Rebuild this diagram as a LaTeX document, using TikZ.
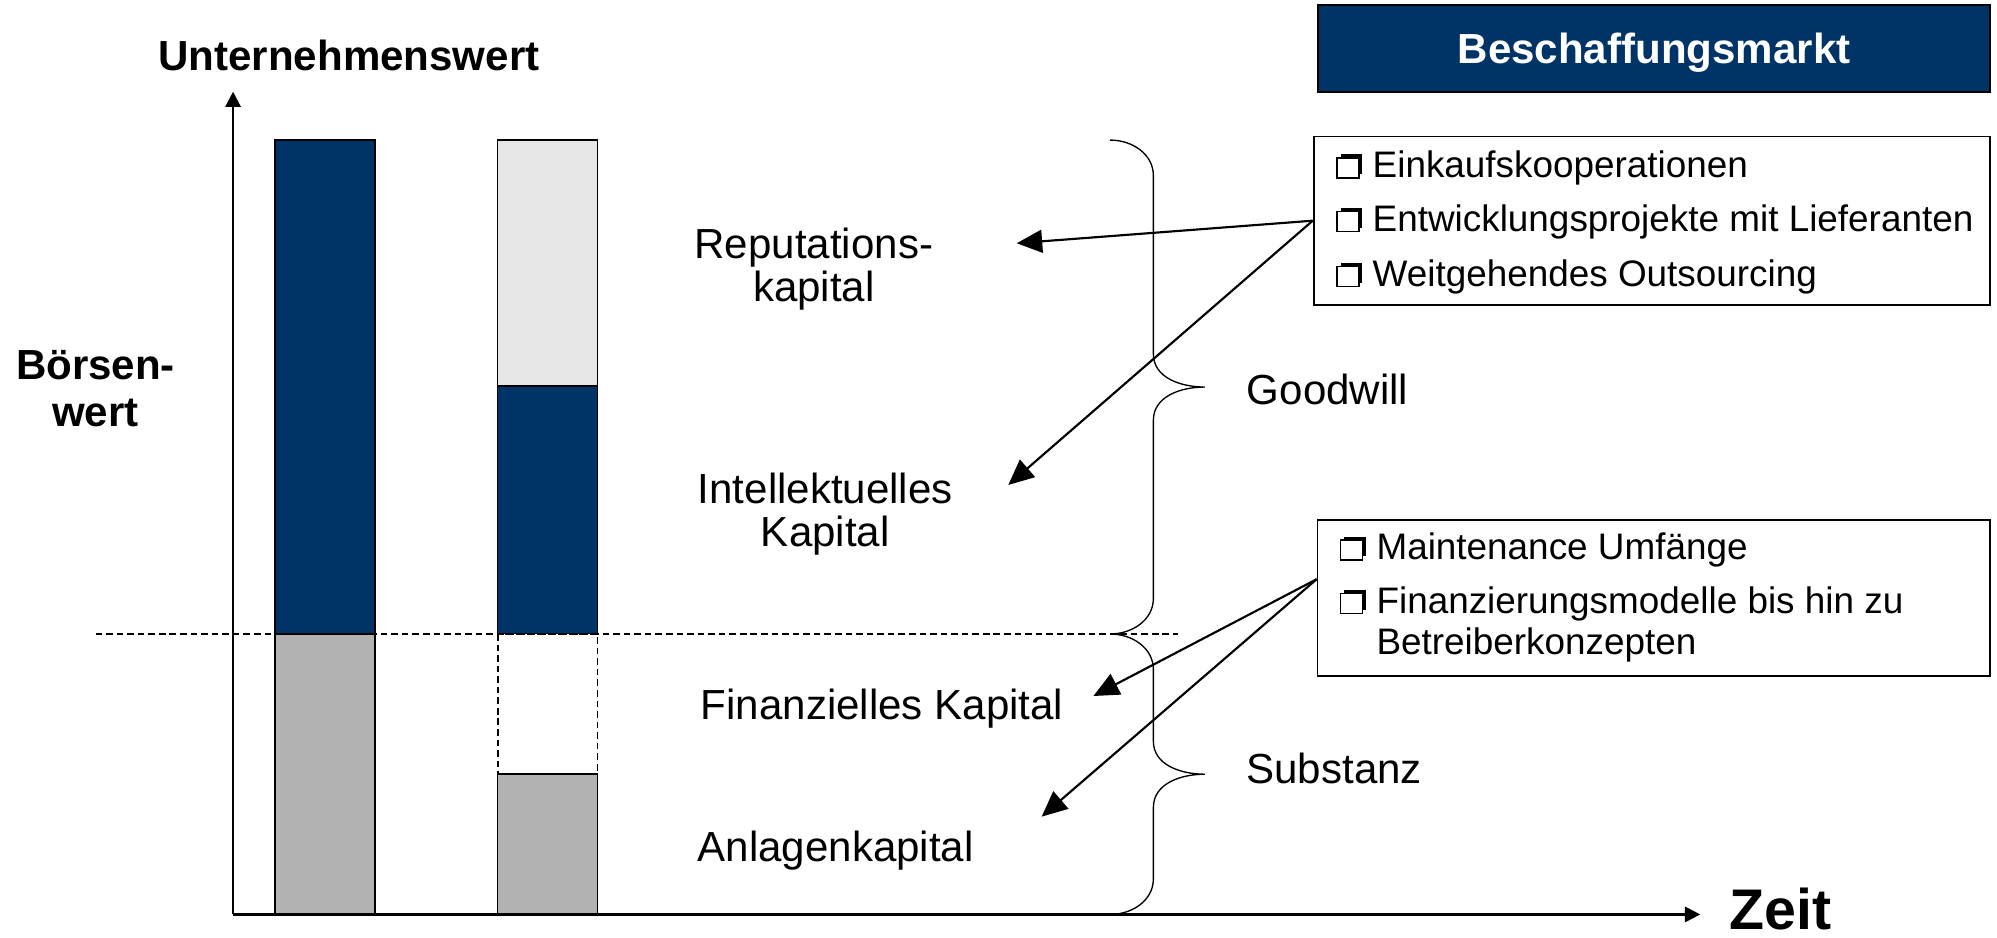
\documentclass[tikz,border=0pt]{standalone}
\usepackage{fontspec}
\setmainfont{Liberation Sans}
\usepackage{tikz}
\usetikzlibrary{calc,positioning,arrows.meta}
\definecolor{navy}{RGB}{0,51,102}
\definecolor{midgrey}{RGB}{178,178,178}
\definecolor{lightgrey}{RGB}{230,230,230}
% Kaestchen mit Schatten oben rechts
\newcommand{\chk}{\tikz[baseline=0pt]{\fill[black] (0.07,0.07) rectangle (0.5,0.46);
    \draw[line width=0.7pt, fill=white] (0,0) rectangle (0.43,0.39);}}
\tikzstyle{lbl}      = [inner sep=0pt, align=center, font=\fontsize{23.5pt}{24.3pt}\selectfont]
\tikzstyle{boldlbl}  = [inner sep=0pt, align=center, font=\fontsize{23.5pt}{25.7pt}\selectfont\bfseries]
\tikzstyle{listitem} = [inner sep=0pt, anchor=base west, align=left, font=\fontsize{20.6pt}{23.3pt}\selectfont]
\tikzstyle{listbox}  = [rectangle, draw=black, line width=1pt, anchor=north west, inner sep=0pt]
\tikzstyle{bar}      = [draw=black, line width=0.8pt]
\tikzstyle{dashline} = [line width=0.9pt, dash pattern=on 3.7pt off 2.2pt]
\tikzstyle{axis}     = [line width=1.2pt, -{Triangle[length=0.3cm,width=0.3cm]}]
\tikzstyle{arrow}    = [line width=1.2pt, -{Triangle[length=0.5cm,width=0.45cm]}]
\tikzstyle{braceline} = [line width=0.75pt]

\begin{document}
\begin{tikzpicture}
    \useasboundingbox (0,0) rectangle (39.2,18.4);

    % Saeulen
    \draw[bar, fill=navy] (5.4,15.65) rectangle (7.3625,5.955);
    \draw[bar, fill=midgrey] (5.4,5.955) rectangle (7.3625,0.45);
    \draw[bar, fill=lightgrey] (9.77,15.65) rectangle (11.725,10.825);
    \draw[bar, fill=navy] (9.77,10.825) rectangle (11.725,5.955);
    \draw[dashline, fill=white] (9.77,5.955) rectangle (11.725,3.2075);
    \draw[bar, fill=midgrey] (9.77,3.2075) rectangle (11.725,0.45);

    % Achsen
    \coordinate (O) at (4.575,0.45);
    \coordinate (ytop) at (4.575,16.6);
    \coordinate (xend) at (33.375,0.45);
    \draw[axis] (O) -- (ytop);
    \draw[axis] (O) -- (xend);
    \draw[dashline] (1.875,5.955) -- (23.125,5.955);

    % Klammern
    \draw[braceline] (21.79,15.65) to[out=0,in=90] (22.64,14.95) -- (22.64,11.45)
        to[out=-90,in=180] (23.65,10.8025) to[out=180,in=90] (22.64,10.15)
        -- (22.64,6.655) to[out=-90,in=0] (21.79,5.955);
    \draw[braceline] (21.79,5.955) to[out=0,in=90] (22.64,5.255) -- (22.64,3.85)
        to[out=-90,in=180] (23.65,3.2025) to[out=180,in=90] (22.64,2.55)
        -- (22.64,1.15) to[out=-90,in=0] (21.79,0.45);

    % Beschriftungen
    \node[boldlbl, anchor=base] (uw) at (6.85,17.025) {Unternehmenswert};
    \node[boldlbl, anchor=base] (bw) at (1.875,10.0375) {Börsen-\\wert};
    \node[inner sep=0pt, anchor=base west, font=\fontsize{32pt}{34pt}\selectfont\bfseries] (zeit) at (33.945,0.16) {Zeit};
    \node[lbl, anchor=base] (rep) at (15.975,12.4775) {Reputations-\\kapital};
    \node[lbl, anchor=base] (int) at (16.2,7.67) {Intellektuelles\\Kapital};
    \node[lbl, anchor=base west] (fin) at (13.75,4.2675) {Finanzielles Kapital};
    \node[lbl, anchor=base west] (anl) at (13.6875,1.485) {Anlagenkapital};
    \node[lbl, anchor=base west] (gw) at (24.47,10.45) {Goodwill};
    \node[lbl, anchor=base west] (sub) at (24.46,3.025) {Substanz};

    % Beschaffungsmarkt
    \node[listbox, fill=navy, minimum width=13.2cm, minimum height=1.7125cm,
          text=white, text height=0.6cm, text depth=0cm,
          font=\fontsize{23.5pt}{25pt}\selectfont\bfseries] (markt) at (25.85,18.325) {Beschaffungsmarkt};
    \node[listbox, minimum width=13.2825cm, minimum height=3.305cm] (box1) at (25.7675,15.7375) {};
    \node[listbox, minimum width=13.205cm, minimum height=3.055cm] (box2) at (25.845,8.205) {};

    \node[listitem] (ek) at (26.225,14.9075) {\chk~Einkaufskooperationen};
    \node[listitem] (ep) at (26.225,13.86) {\chk~Entwicklungsprojekte mit Lieferanten};
    \node[listitem] (wo) at (26.225,12.78) {\chk~Weitgehendes Outsourcing};
    \node[listitem] (mu) at (26.3,7.4075) {\chk~Maintenance Umfänge};
    \node[listitem] (fm) at (26.3,5.5425) {\chk~Finanzierungsmodelle bis hin zu\\\phantom{\chk~}Betreiberkonzepten};

    % Pfeile
    \coordinate (repTip) at (19.9575,13.625);
    \coordinate (intTip) at (19.7925,8.88);
    \coordinate (finTip) at (21.4625,4.7375);
    \coordinate (anlTip) at (20.4475,2.37);
    \coordinate (b2) at ([yshift=0.37cm]box2.west);
    \draw[arrow] (box1.west) -- (repTip);
    \draw[arrow] (box1.west) -- (intTip);
    \draw[arrow] (b2) -- (finTip);
    \draw[arrow] (b2) -- (anlTip);
\end{tikzpicture}
\end{document}
